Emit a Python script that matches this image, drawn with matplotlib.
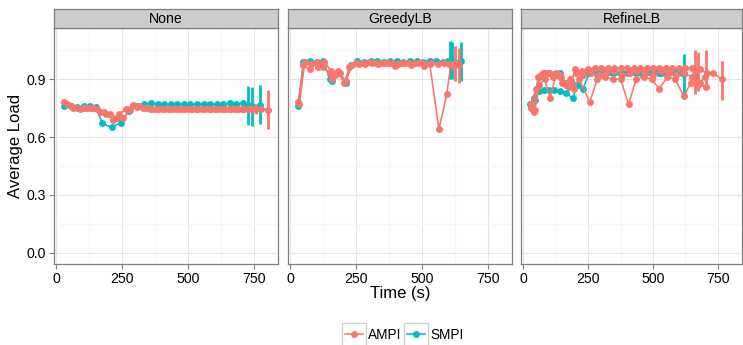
import matplotlib
matplotlib.use("Agg")
import matplotlib.pyplot as plt
from matplotlib.patches import Rectangle
from matplotlib.lines import Line2D

plt.rcParams['font.family'] = ['Liberation Sans', 'DejaVu Sans']

AMPI_COL = "#F8766D"
SMPI_COL = "#00BFC4"

facets = ["None", "GreedyLB", "RefineLB"]
x_ticks = [0, 250, 500, 750]
y_ticks = [0.0, 0.3, 0.6, 0.9]
y_tick_labels = ["0.0", "0.3", "0.6", "0.9"]

# ---- None ----
none_ampi_t1 = [30, 55, 80, 105, 130, 155, 180, 205, 230, 255, 280, 305, 330, 355, 380, 405,
                430, 455, 480, 505, 530, 555, 580, 605, 630, 655, 680, 705, 730, 755, 780, 805]
none_ampi_y1 = [0.78, 0.76, 0.75, 0.75, 0.75, 0.745, 0.73, 0.72, 0.70, 0.70, 0.74, 0.755, 0.75, 0.745, 0.745, 0.745,
                0.745, 0.745, 0.745, 0.745, 0.745, 0.745, 0.745, 0.745, 0.745, 0.745, 0.745, 0.745, 0.745, 0.745, 0.745, 0.74]
none_ampi_t2 = [40, 65, 90, 115, 140, 165, 190, 215, 240, 265, 290, 315, 340, 365, 390, 415,
                440, 465, 490, 515, 540, 565, 590, 615, 640, 665, 690, 715, 740, 760]
none_ampi_y2 = [0.77, 0.75, 0.745, 0.75, 0.75, 0.73, 0.72, 0.69, 0.72, 0.745, 0.765, 0.76, 0.75, 0.745, 0.745, 0.745,
                0.745, 0.745, 0.745, 0.745, 0.745, 0.745, 0.745, 0.745, 0.745, 0.745, 0.745, 0.745, 0.745, 0.745]
none_smpi_t1 = [30, 55, 80, 105, 130, 150, 175, 210, 245, 275, 305, 335, 360, 385, 410, 435,
                460, 485, 510, 535, 560, 585, 610, 635, 660, 685, 710, 730, 745, 775]
none_smpi_y1 = [0.76, 0.76, 0.755, 0.76, 0.76, 0.755, 0.67, 0.65, 0.675, 0.735, 0.76, 0.77, 0.775, 0.77, 0.77, 0.77,
                0.77, 0.77, 0.77, 0.77, 0.77, 0.77, 0.77, 0.77, 0.775, 0.77, 0.775, 0.765, 0.76, 0.765]
none_ampi_err_t = [760, 805]
none_ampi_err_lo = [0.72, 0.64]
none_ampi_err_hi = [0.77, 0.845]
none_smpi_err_t = [730, 745, 775]
none_smpi_err_lo = [0.66, 0.655, 0.665]
none_smpi_err_hi = [0.865, 0.86, 0.87]

# ---- GreedyLB ----
greedy_ampi_t1 = [30, 50, 75, 100, 125, 150, 160, 180, 205, 225, 250, 275, 300, 325, 350, 375,
                  400, 425, 450, 475, 500, 510, 530, 565, 595, 610, 627, 641]
greedy_ampi_y1 = [0.78, 0.97, 0.95, 0.99, 0.96, 0.93, 0.90, 0.94, 0.88, 0.96, 0.985, 0.985, 0.99, 0.985, 0.985, 0.985,
                  0.965, 0.985, 0.985, 0.985, 0.985, 0.965, 0.98, 0.64, 0.82, 0.975, 0.98, 0.975]
greedy_ampi_t2 = [35, 55, 80, 105, 130, 155, 170, 190, 210, 235, 260, 285, 310, 335, 360, 385,
                  410, 435, 460, 485, 510, 535, 560, 585, 605]
greedy_ampi_y2 = [0.77, 0.99, 0.98, 0.96, 0.99, 0.94, 0.92, 0.93, 0.89, 0.97, 0.98, 0.98, 0.985, 0.98, 0.985, 0.985,
                  0.98, 0.985, 0.975, 0.985, 0.98, 0.985, 0.98, 0.985, 0.98]
greedy_smpi_t1 = [30, 50, 75, 100, 125, 150, 160, 185, 210, 230, 255, 280, 305, 330, 355, 380,
                  405, 430, 455, 480, 505, 530, 555, 580, 600, 615, 650]
greedy_smpi_y1 = [0.76, 0.99, 0.995, 0.99, 0.995, 0.90, 0.89, 0.93, 0.88, 0.975, 0.995, 0.99, 0.995, 0.995, 0.99, 0.995,
                  0.995, 0.99, 0.995, 0.995, 0.99, 0.995, 0.995, 0.99, 0.995, 0.995, 0.995]
greedy_ampi_err_t = [627, 641]
greedy_ampi_err_lo = [0.89, 0.88]
greedy_ampi_err_hi = [1.07, 1.06]
greedy_smpi_err_t = [608, 615, 650]
greedy_smpi_err_lo = [0.90, 0.90, 0.89]
greedy_smpi_err_hi = [1.095, 1.09, 1.09]

# ---- RefineLB ----
refine_smpi_t1 = [25, 40, 60, 80, 100, 120, 140, 165, 185, 205, 230, 255, 280, 305, 330, 355,
                  380, 405, 430, 455, 480, 505, 530, 555, 580, 605, 619]
refine_smpi_y1 = [0.77, 0.80, 0.91, 0.93, 0.93, 0.925, 0.93, 0.87, 0.89, 0.87, 0.93, 0.935, 0.935, 0.935, 0.935, 0.935,
                  0.93, 0.935, 0.935, 0.93, 0.935, 0.935, 0.93, 0.935, 0.935, 0.935, 0.925]
refine_smpi_t2 = [30, 45, 60, 80, 100, 120, 140, 165, 190, 210, 230, 255, 285, 315, 345, 375,
                  405, 435, 465, 495, 525, 555, 585, 610]
refine_smpi_y2 = [0.76, 0.79, 0.84, 0.845, 0.845, 0.845, 0.84, 0.83, 0.80, 0.87, 0.85, 0.93, 0.925, 0.93, 0.93, 0.925,
                  0.93, 0.93, 0.925, 0.93, 0.93, 0.925, 0.93, 0.93]
refine_ampi_t1 = [30, 40, 57, 75, 100, 125, 145, 165, 185, 200, 225, 250, 275, 300, 325, 350,
                  375, 400, 425, 450, 475, 500, 525, 550, 575, 600, 625, 650, 661, 680, 708, 733, 764]
refine_ampi_y1 = [0.75, 0.73, 0.91, 0.93, 0.93, 0.93, 0.91, 0.87, 0.88, 0.95, 0.94, 0.95, 0.955, 0.955, 0.955, 0.955,
                  0.955, 0.955, 0.955, 0.955, 0.955, 0.955, 0.955, 0.955, 0.955, 0.955, 0.955, 0.955, 0.94, 0.95, 0.93, 0.93, 0.90]
refine_ampi_t2 = [35, 45, 62, 82, 104, 125, 150, 175, 195, 215, 256, 285, 315, 345, 375, 406,
                  435, 465, 495, 524, 555, 585, 619, 645, 674, 706]
refine_ampi_y2 = [0.76, 0.74, 0.87, 0.90, 0.80, 0.92, 0.88, 0.86, 0.85, 0.90, 0.78, 0.90, 0.91, 0.90, 0.90, 0.77,
                  0.90, 0.91, 0.90, 0.85, 0.91, 0.90, 0.81, 0.88, 0.87, 0.86]
refine_ampi_t3 = [30, 50, 70, 90, 115, 140, 160, 180, 205, 230, 260, 290, 320, 350, 380, 410,
                  440, 470, 500, 530, 560, 590, 620, 650, 680, 700]
refine_ampi_y3 = [0.77, 0.85, 0.92, 0.93, 0.91, 0.92, 0.88, 0.90, 0.93, 0.92, 0.93, 0.92, 0.93, 0.94, 0.92, 0.93,
                  0.94, 0.93, 0.92, 0.94, 0.93, 0.92, 0.93, 0.91, 0.88, 0.91]
refine_ampi_err_t = [661, 674, 706, 764]
refine_ampi_err_lo = [0.82, 0.84, 0.86, 0.79]
refine_ampi_err_hi = [1.05, 1.04, 1.05, 0.995]
refine_smpi_err_t = [619, 666]
refine_smpi_err_lo = [0.82, 0.86]
refine_smpi_err_hi = [1.03, 0.95]

panel_runs = [
    ([(none_smpi_t1, none_smpi_y1)],
     [(none_ampi_t1, none_ampi_y1), (none_ampi_t2, none_ampi_y2)],
     (none_smpi_err_t, none_smpi_err_lo, none_smpi_err_hi),
     (none_ampi_err_t, none_ampi_err_lo, none_ampi_err_hi)),
    ([(greedy_smpi_t1, greedy_smpi_y1)],
     [(greedy_ampi_t2, greedy_ampi_y2), (greedy_ampi_t1, greedy_ampi_y1)],
     (greedy_smpi_err_t, greedy_smpi_err_lo, greedy_smpi_err_hi),
     (greedy_ampi_err_t, greedy_ampi_err_lo, greedy_ampi_err_hi)),
    ([(refine_smpi_t1, refine_smpi_y1), (refine_smpi_t2, refine_smpi_y2)],
     [(refine_ampi_t1, refine_ampi_y1), (refine_ampi_t2, refine_ampi_y2), (refine_ampi_t3, refine_ampi_y3)],
     (refine_smpi_err_t, refine_smpi_err_lo, refine_smpi_err_hi),
     (refine_ampi_err_t, refine_ampi_err_lo, refine_ampi_err_hi)),
]

W, H = 743, 345
fig = plt.figure(figsize=(W / 100, H / 100), dpi=100)


def px_box(x0, y0, x1, y1):
    return [x0 / W, 1 - y1 / H, (x1 - x0) / W, (y1 - y0) / H]


panel_x = [(54, 278), (288, 512), (521, 742)]
panel_top, panel_bot = 28, 264
strip_top = 9
LW, MS = 1.15, 5.0

for i, (name, (x0, x1)) in enumerate(zip(facets, panel_x)):
    ax = fig.add_axes(px_box(x0, panel_top, x1, panel_bot))
    ax.set_xlim(-8.7, 843)
    ax.set_ylim(-0.057, 1.164)
    ax.set_xticks(x_ticks)
    ax.set_xticks([125, 375, 625], minor=True)
    ax.set_yticks(y_ticks)
    ax.set_yticks([0.15, 0.45, 0.75, 1.05], minor=True)
    ax.grid(which="major", color="#E5E5E5", linewidth=0.8)
    ax.grid(which="minor", color="#F7F7F7", linewidth=0.8)
    ax.set_axisbelow(True)
    for s in ax.spines.values():
        s.set_color("#7F7F7F")
        s.set_linewidth(0.9)
    ax.tick_params(which="major", length=3.5, width=0.8, color="#7F7F7F",
                   labelsize=10.2, labelcolor="black", pad=2)
    ax.tick_params(which="minor", length=0)
    ax.set_xticklabels([str(t) for t in x_ticks])
    if i == 0:
        ax.set_yticklabels(y_tick_labels)
        ax.set_ylabel("Average Load", fontsize=12, labelpad=3)
    else:
        ax.tick_params(axis="y", which="major", length=0, labelleft=False)
    if i == 1:
        ax.set_xlabel("Time (s)", fontsize=12, labelpad=0)

    smpi_runs, ampi_runs, smpi_err, ampi_err = panel_runs[i]
    for t, y in smpi_runs:
        ax.plot(t, y, color=SMPI_COL, linewidth=LW, marker="o", markersize=MS,
                markeredgewidth=0)
    et, lo, hi = smpi_err
    ax.vlines(et, lo, hi, color=SMPI_COL, linewidth=2.0)
    for t, y in ampi_runs:
        ax.plot(t, y, color=AMPI_COL, linewidth=LW, marker="o", markersize=MS,
                markeredgewidth=0)
    et, lo, hi = ampi_err
    ax.vlines(et, lo, hi, color=AMPI_COL, linewidth=2.0)

    # facet strip
    sax = fig.add_axes(px_box(x0, strip_top, x1, panel_top))
    sax.set_facecolor("#CCCCCC")
    sax.set_xticks([])
    sax.set_yticks([])
    for s in sax.spines.values():
        s.set_color("#7F7F7F")
        s.set_linewidth(0.9)
    sax.text(0.5, 0.45, name, ha="center", va="center", fontsize=10.2,
             transform=sax.transAxes)

# legend along the bottom
for kx, label, col in [(342, "AMPI", AMPI_COL), (404, "SMPI", SMPI_COL)]:
    fig.patches.append(Rectangle((kx / W, 1 - 347 / H), 24 / W, 24 / H,
                                 transform=fig.transFigure, facecolor="white",
                                 edgecolor="#CCCCCC", linewidth=0.9))
    fig.lines.append(Line2D([(kx + 3) / W, (kx + 21) / W], [1 - 334 / H] * 2,
                            transform=fig.transFigure, color=col, linewidth=LW))
    fig.lines.append(Line2D([(kx + 12) / W], [1 - 334 / H], transform=fig.transFigure,
                            color=col, marker="o", markersize=MS, markeredgewidth=0))
    fig.text((kx + 26) / W, 1 - 335 / H, label, ha="left", va="center", fontsize=9.8)

fig.savefig("out.png", dpi=100)
